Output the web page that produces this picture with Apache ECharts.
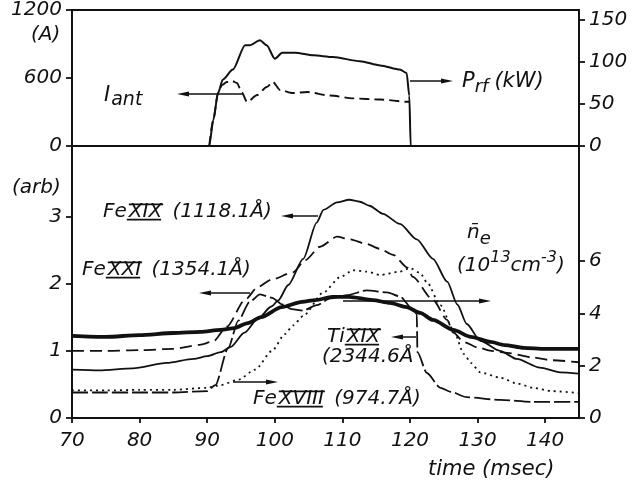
<!DOCTYPE html>
<html>
<head>
<meta charset="utf-8">
<script src="https://cdn.jsdelivr.net/npm/echarts@6/dist/echarts.min.js"></script>
<style>
  html, body { margin: 0; padding: 0; background: #fff; }
  #chart { width: 638px; height: 487px; }
</style>
</head>
<body>
<div id="chart"></div>
<script>
// ---- time axis (msec) ----
const timeTicks = [70, 80, 90, 100, 110, 120, 130, 140];

// ---- upper panel: antenna current (A, left) and rf power (kW, right) ----
const antTicks = [0, 600, 1200];
const rfTicks = [0, 50, 100, 150];
const rfPower = [
  [70, 0], [90.3, 0], [90.9, 31], [91.6, 63], [92.3, 79], [93.8, 91], [95.6, 120],
  [96.3, 120], [97.8, 126], [98.8, 120], [100.0, 104], [101.1, 111], [103, 111],
  [105.7, 108], [108.6, 106], [112.6, 101], [115.6, 96], [118.5, 91], [119.5, 87],
  [119.9, 60], [120.1, 0], [145, 0]
];
const antCurrent = [
  [90.3, 0], [90.9, 229], [91.6, 468], [92.2, 538], [92.9, 565], [93.7, 573],
  [94.4, 556], [95.1, 476], [95.9, 388], [97.4, 450], [98.8, 520], [99.7, 565],
  [100.8, 494], [102.7, 467], [104.8, 476], [108.2, 445], [111.6, 420],
  [115.6, 410], [119.6, 390], [120.0, 388]
];

// ---- lower panel: line intensities (arb, left) and density (10^13 cm^-3, right) ----
const arbTicks = [0, 1, 2, 3];
const neTicks = [0, 2, 4, 6];
const density = [
  [70, 3.14], [75, 3.10], [80, 3.17], [85, 3.25], [89, 3.29], [92, 3.37], [94, 3.44],
  [96, 3.63], [98, 3.86], [101, 4.24], [104, 4.44], [106, 4.51], [108.5, 4.63],
  [111, 4.63], [114.5, 4.51], [117, 4.40], [119.5, 4.24], [121.5, 4.02],
  [123.4, 3.75], [126.4, 3.37], [129, 3.10], [131.9, 2.91], [134, 2.79],
  [136.8, 2.68], [140, 2.64], [145, 2.64]
];
const feXIX = [
  [70, 0.72], [74, 0.71], [79, 0.74], [84, 0.82], [88, 0.88], [90, 0.92], [92, 0.98],
  [93.5, 1.06], [95.5, 1.27], [97.5, 1.48], [99.5, 1.66], [100.5, 1.75], [102, 1.98],
  [104.2, 2.37], [106.2, 2.91], [107.2, 3.10], [109.2, 3.21], [111, 3.25],
  [112.6, 3.22], [114, 3.16], [116, 3.04], [118.5, 2.89], [121, 2.66], [123.4, 2.37],
  [125.5, 2.03], [127, 1.69], [128.4, 1.40], [130.4, 1.15], [133.3, 1.00],
  [135.8, 0.88], [139.2, 0.75], [142.2, 0.68], [145, 0.66]
];
const feXXI = [
  [70, 1.00], [75, 1.00], [80, 1.01], [85, 1.03], [88.9, 1.09], [90.9, 1.14],
  [92.9, 1.36], [95.6, 1.76], [97.5, 1.95], [99.5, 2.06], [102.7, 2.17], [104.5, 2.35],
  [106.7, 2.55], [109.2, 2.70], [111.1, 2.66], [113.6, 2.59], [115.5, 2.52],
  [117.5, 2.43], [119.6, 2.24], [120.4, 2.10], [123.4, 1.76], [125.5, 1.46],
  [126.4, 1.27], [128, 1.13], [130, 1.05], [132, 1.00], [134.4, 0.97], [138.2, 0.90],
  [141, 0.86], [145, 0.83]
];
const feXVIII = [
  [70, 0.41], [75, 0.41], [80, 0.42], [85, 0.42], [90, 0.45], [92, 0.49], [94.6, 0.57],
  [97.1, 0.72], [99.6, 1.00], [101.5, 1.25], [102.7, 1.38], [104.2, 1.52], [107.2, 1.87],
  [109.7, 2.10], [111.6, 2.20], [113.6, 2.18], [115.6, 2.13], [118.5, 2.18], [120, 2.23],
  [121.5, 2.16], [122.5, 2.02], [124.5, 1.68], [126.4, 1.31], [128, 0.95], [129, 0.82],
  [130.4, 0.68], [133.3, 0.60], [136, 0.51], [138.2, 0.45], [141, 0.40], [145, 0.37]
];
const tiXIX = [
  [70, 0.38], [75, 0.38], [80, 0.38], [85, 0.38], [90, 0.40], [91.2, 0.49], [93.1, 1.04],
  [94.6, 1.45], [96.3, 1.73], [97.8, 1.84], [99.6, 1.79], [101.1, 1.69], [102.5, 1.62],
  [104.2, 1.60], [106.2, 1.68], [108.2, 1.78], [110.7, 1.83], [113.6, 1.90],
  [116.6, 1.87], [118.5, 1.81], [120.4, 1.62], [121.0, 1.55], [121.1, 0.98],
  [122.5, 0.67], [124.5, 0.45], [126, 0.39], [128.4, 0.31], [133.3, 0.27],
  [138.2, 0.24], [145, 0.24]
];

const INK = '#111';
const FONT = '"DejaVu Sans"';

const measureCtx = document.createElement('canvas').getContext('2d');
function fontOf(size) { return 'italic ' + size + 'px ' + FONT; }
function textWidth(t, size) { measureCtx.font = fontOf(size); return measureCtx.measureText(t).width; }

function seg(x1, y1, x2, y2, w) {
  return { type: 'line', silent: true, shape: { x1, y1, x2, y2 }, style: { stroke: INK, lineWidth: w || 1.4 } };
}
// annotation arrow, head drawn at (x2, y)
function arrow(x1, y, x2) {
  const d = Math.sign(x2 - x1);
  return [
    seg(x1, y, x2 - d * 6, y, 1.5),
    { type: 'polygon', silent: true, shape: { points: [[x2, y], [x2 - d * 12, y - 2.6], [x2 - d * 12, y + 2.6]] }, style: { fill: INK } }
  ];
}
// a run of text pieces; pieces may be raised/lowered or carry roman-numeral bars
function label(x, y, parts) {
  const out = [];
  let cx = x;
  parts.forEach(p => {
    const size = p.size || 20;
    const w = textWidth(p.t, size);
    out.push({
      type: 'text', silent: true, x: cx, y: y + (p.dy || 0),
      style: { text: p.t, font: fontOf(size), fill: INK, textAlign: 'left', textVerticalAlign: 'middle' }
    });
    if (p.bar) {
      out.push(seg(cx, y - size * 0.38, cx + w + 1, y - size * 0.38, 1.6));
      out.push(seg(cx - 2, y + size * 0.38, cx + w - 1, y + size * 0.38, 1.6));
    }
    cx += w + (p.gap || 0);
  });
  return out;
}

const graphics = [].concat(
  label(31, 35, [{ t: '(A)' }]),
  label(12, 188, [{ t: '(arb)' }]),
  label(104, 96, [{ t: 'I', size: 21, gap: 1 }, { t: 'ant', size: 19, dy: 4 }]),
  arrow(243, 94, 177),
  label(462, 82, [{ t: 'P', size: 21 }, { t: 'rf', size: 18, dy: 5, gap: 6 }, { t: '(kW)', size: 21 }]),
  arrow(410, 81, 453),
  label(103, 212, [{ t: 'Fe', gap: 2 }, { t: 'XIX', bar: true, gap: 4 }, { t: ' (1118.1Å)' }]),
  arrow(318, 216, 281),
  label(82, 270, [{ t: 'Fe', gap: 2 }, { t: 'XXI', bar: true, gap: 4 }, { t: ' (1354.1Å)' }]),
  arrow(250, 293, 199),
  label(467, 233, [{ t: 'n\u0304', size: 20 }, { t: 'e', size: 18, dy: 6 }]),
  label(457, 266, [{ t: '(10', size: 20 }, { t: '13', size: 16, dy: -8 }, { t: 'cm', size: 20 }, { t: '-3', size: 16, dy: -8 }, { t: ')', size: 20 }]),
  arrow(343, 301, 491),
  label(327, 337, [{ t: 'Ti', gap: 2 }, { t: 'XIX', bar: true }]),
  arrow(416, 337, 391),
  label(322, 357, [{ t: '(2344.6Å' }]),
  label(253, 399, [{ t: 'Fe', gap: 2 }, { t: 'XVIII', bar: true, gap: 4 }, { t: ' (974.7Å)' }]),
  arrow(233, 382, 278),
  label(428, 470, [{ t: 'time (msec)', size: 21 }])
);

const axisText = { color: INK, fontFamily: FONT, fontStyle: 'italic', fontSize: 20, formatter: v => String(v) };
const axisInk = { color: INK, width: 1.8 };

function yAxis(gridIndex, position, max, ticks) {
  return {
    type: 'value', gridIndex, position, min: 0, max,
    axisLine: { show: true, lineStyle: axisInk },
    axisTick: { show: true, length: 6, customValues: ticks, lineStyle: axisInk },
    axisLabel: Object.assign({ margin: 10, customValues: ticks }, axisText),
    splitLine: { show: false }
  };
}

const line = (name, data, xi, yi, width, type) => ({
  name, type: 'line', data, xAxisIndex: xi, yAxisIndex: yi,
  showSymbol: false, smooth: 0.25, smoothMonotone: 'x',
  lineStyle: { color: INK, width, type, cap: 'butt', join: 'round' },
  silent: true, z: 3
});

const chart = echarts.init(document.getElementById('chart'), null, { renderer: 'canvas' });
chart.setOption({
  animation: false,
  backgroundColor: '#fff',
  grid: [
    { left: 72, top: 10, width: 507, height: 136, show: true, borderColor: INK, borderWidth: 1.8, backgroundColor: 'transparent' },
    { left: 72, top: 146, width: 507, height: 272, show: true, borderColor: INK, borderWidth: 1.8, backgroundColor: 'transparent' }
  ],
  xAxis: [
    { type: 'value', gridIndex: 0, min: 70, max: 145, axisLine: { show: false }, axisTick: { show: false }, axisLabel: { show: false }, splitLine: { show: false } },
    {
      type: 'value', gridIndex: 1, min: 70, max: 145,
      axisLine: { show: true, lineStyle: axisInk },
      axisTick: { show: true, length: 5, customValues: timeTicks, lineStyle: axisInk },
      axisLabel: Object.assign({ margin: 13, customValues: timeTicks }, axisText),
      splitLine: { show: false }
    }
  ],
  yAxis: [
    yAxis(0, 'left', 1200, antTicks),
    yAxis(0, 'right', 162, rfTicks),
    yAxis(1, 'left', 4.05, arbTicks),
    yAxis(1, 'right', 10.4, neTicks)
  ],
  series: [
    line('P_rf', rfPower, 0, 1, 2.0, 'solid'),
    line('I_ant', antCurrent, 0, 0, 1.9, [10, 5]),
    line('n_e', density, 1, 3, 3.8, 'solid'),
    line('Fe XIX', feXIX, 1, 2, 1.8, 'solid'),
    line('Fe XXI', feXXI, 1, 2, 1.8, [12, 6]),
    line('Fe XVIII', feXVIII, 1, 2, 1.8, [2, 4]),
    line('Ti XIX', tiXIX, 1, 2, 1.8, [16, 4])
  ],
  graphic: graphics
});
</script>
</body>
</html>
